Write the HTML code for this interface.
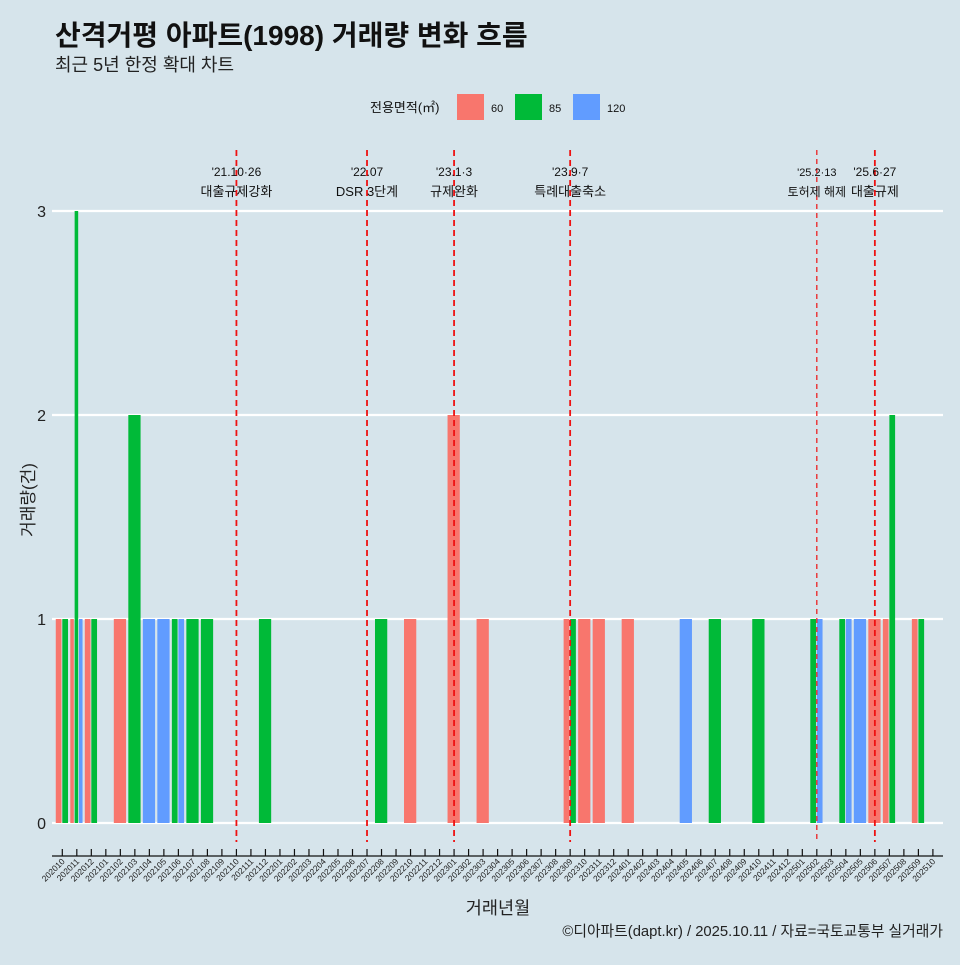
<!DOCTYPE html>
<html><head><meta charset="utf-8">
<style>
html,body{margin:0;padding:0;background:#d6e4eb;}
body{width:960px;height:960px;overflow:hidden;font-family:"Liberation Sans","Noto Sans CJK KR",sans-serif;}
svg text{font-family:"Liberation Sans","Noto Sans CJK KR",sans-serif;}
</style></head><body>
<svg id="chart" width="960" height="960" xmlns="http://www.w3.org/2000/svg">
<rect width="960" height="960" fill="#d6e4eb"/>
<text x="55" y="45" font-size="28" font-weight="bold" fill="#111">산격거평 아파트(1998) 거래량 변화 흐름</text>
<text x="55" y="71" font-size="18" fill="#222">최근 5년 한정 확대 차트</text>
<g>
<text x="370" y="112" font-size="13" fill="#111">전용면적(㎡)</text>
<rect x="457" y="94" width="27" height="26" fill="#F8766D"/>
<text x="491" y="112" font-size="11" fill="#111">60</text>
<rect x="515" y="94" width="27" height="26" fill="#00BA38"/>
<text x="549" y="112" font-size="11" fill="#111">85</text>
<rect x="573" y="94" width="27" height="26" fill="#619CFF"/>
<text x="607" y="112" font-size="11" fill="#111">120</text>
</g>
<g id="grid"></g><g id="bars"></g><g id="events"></g><g id="axes"></g>
<text transform="translate(34,500) rotate(-90)" text-anchor="middle" font-size="17" fill="#222">거래량(건)</text>
<text x="498" y="914" text-anchor="middle" font-size="17.5" fill="#222">거래년월</text>
<text x="943" y="936" text-anchor="end" font-size="14.8" fill="#222">©디아파트(dapt.kr) / 2025.10.11 / 자료=국토교통부 실거래가</text>
</svg>
<script>
const months=[];for(let y=2020,m=10;!(y===2025&&m===11);){months.push(''+y+(m<10?'0'+m:m));m++;if(m>12){m=1;y++;}}
const yTicks=[0,1,2,3];
const types=['60','85','120'];
const colors={'60':'#F8766D','85':'#00BA38','120':'#619CFF'};
const barMonths=['202010','202010','202011','202011','202011','202012','202012','202102','202103','202104','202105','202106','202106','202107','202108','202112','202208','202210','202301','202303','202309','202309','202310','202311','202401','202405','202407','202410','202502','202502','202504','202504','202505','202506','202507','202507','202509','202509'];
const barTypes=['60','85','60','85','120','60','85','60','85','120','120','85','120','85','85','85','85','60','60','60','60','85','60','60','60','120','85','85','85','120','85','120','120','60','60','85','60','85'];
const barCounts=[1,1,1,3,1,1,1,1,2,1,1,1,1,1,1,1,1,1,2,1,1,1,1,1,1,1,1,1,1,1,1,1,1,1,1,2,1,1];
const eventMonths=['202110','202207','202301','202309','202502','202506'];
const eventLine1=["'21.10·26","'22.07","'23.1·3","'23.9·7","'25.2·13","'25.6·27"];
const eventLine2=['대출규제강화','DSR 3단계','규제완화','특례대출축소','토허제 해제','대출규제'];
const NS='http://www.w3.org/2000/svg';
const x0=62.3,step=14.51;
const xS=m=>x0+months.indexOf(m)*step;
const yS=v=>823-v*204;
function mk(t,a,p){const e=document.createElementNS(NS,t);for(const k in a)e.setAttribute(k,a[k]);p.appendChild(e);return e;}
const grid=document.getElementById('grid');
yTicks.forEach(v=>{
 const l=mk('line',{x1:52,x2:943,y1:yS(v),y2:yS(v),stroke:'#fff','stroke-width':2.2},grid);
 
 
 const t=mk('text',{x:46,y:yS(v)+6,'text-anchor':'end','font-size':16,fill:'#222'},grid);t.textContent=v;
 
 
});
const bars=document.getElementById('bars');
const groups={};barMonths.forEach((m,i)=>{(groups[m]=groups[m]||[]).push(i);});
Object.keys(groups).forEach(m=>{
 const idx=groups[m].sort((a,b)=>types.indexOf(barTypes[a])-types.indexOf(barTypes[b]));
 const tot=0.9*step,w=tot/idx.length;
 idx.forEach((i,k)=>{
  const x=xS(m)-tot/2+k*w;
  const r=mk('rect',{x:x,y:yS(barCounts[i]),width:w-0.8,height:yS(0)-yS(barCounts[i]),fill:colors[barTypes[i]]},bars);
  
  
 });
});
const ev=document.getElementById('events');
eventMonths.forEach((m,i)=>{
 const x=xS(m),thin=m==='202502';
 const l=mk('line',{x1:x,x2:x,y1:150,y2:842,stroke:'#ee1111','stroke-width':thin?1.2:1.8,'stroke-dasharray':thin?'5,4':'6,4'},ev);
 
 
 const t1=mk('text',{x:x,y:176,'text-anchor':'middle','font-size':thin?11:12,fill:'#111'},ev);t1.textContent=eventLine1[i];
 
 
 const t2=mk('text',{x:x,y:196,'text-anchor':'middle','font-size':thin?12:13,fill:'#111'},ev);t2.textContent=eventLine2[i];
 
 
});
const ax=document.getElementById('axes');
const al=mk('line',{x1:52,x2:943,y1:856,y2:856,stroke:'#111','stroke-width':1.2},ax);


months.forEach(m=>{
 const x=xS(m);
 const tk=mk('line',{x1:x,x2:x,y1:849,y2:856,stroke:'#111','stroke-width':1.2},ax);
 
 
 const t=mk('text',{x:x+3,y:862,'text-anchor':'end','font-size':8.5,fill:'#222',transform:'rotate(-45 '+(x+3)+' 862)'},ax);t.textContent=m;
 
 
});
</script>
</body></html>
